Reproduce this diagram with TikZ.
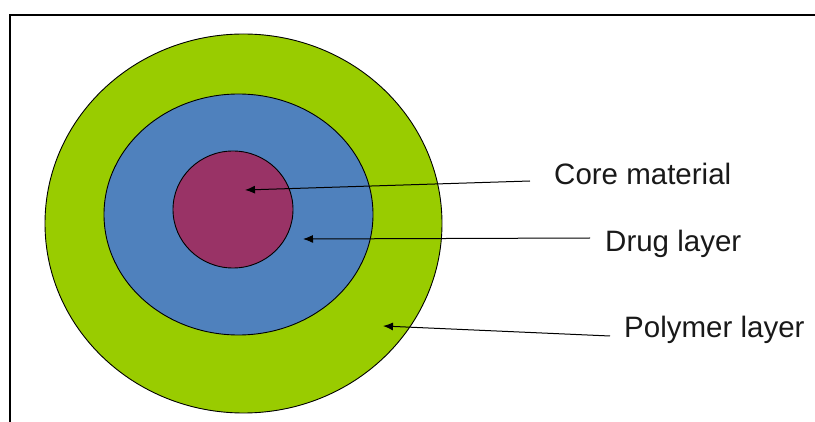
\documentclass[tikz,border=0pt]{standalone}
\usepackage{fontspec}
\setmainfont{Liberation Sans}
\usetikzlibrary{arrows.meta}
\usetikzlibrary{shapes.geometric}
\definecolor{polygreen}{HTML}{99CC00}
\definecolor{drugblue}{HTML}{4F81BD}
\definecolor{coremagenta}{HTML}{993366}
\tikzset{layer/.style = {draw, ellipse, inner sep = 0, line width = 0.9pt}}
\tikzset{pointer/.style = {-{Latex[length = 10pt, width = 8pt]}, line width = 1pt}}
\tikzset{lbl/.style = {anchor = base west, inner sep = 0, text = black!90, font = \fontsize{29.5}{35}\selectfont}}

\begin{document}
\begin{tikzpicture}[x = 1pt, y = -1pt]
    \useasboundingbox (0, 0) rectangle (815, 422);
    \draw [line width = 2.2pt] (10, 422) -- (10, 15) -- (815, 15);

    \node [layer, fill = polygreen, minimum width = 397pt, minimum height = 379pt] (polymer) at (243.5, 223.5) {};
    \node [layer, fill = drugblue, minimum width = 269pt, minimum height = 241pt] (drug) at (238.5, 214.5) {};
    \node [layer, fill = coremagenta, minimum width = 120pt, minimum height = 117pt] (core) at (233, 209.5) {};

    \node [lbl] (core label) at (554, 185) {Core material};
    \node [lbl] (drug label) at (605, 252) {Drug layer};
    \node [lbl] (polymer label) at (624, 338) {Polymer layer};

    \coordinate (core tail) at (530, 181);
    \coordinate (core tip) at (245, 190);
    \coordinate (drug tail) at (590, 238);
    \coordinate (drug tip) at (303, 239);
    \coordinate (polymer tail) at (610, 336);
    \coordinate (polymer tip) at (383, 326);

    \draw [pointer] (core tail) -- (core tip);
    \draw [pointer] (drug tail) -- (drug tip);
    \draw [pointer] (polymer tail) -- (polymer tip);
  \end{tikzpicture}
\end{document}
